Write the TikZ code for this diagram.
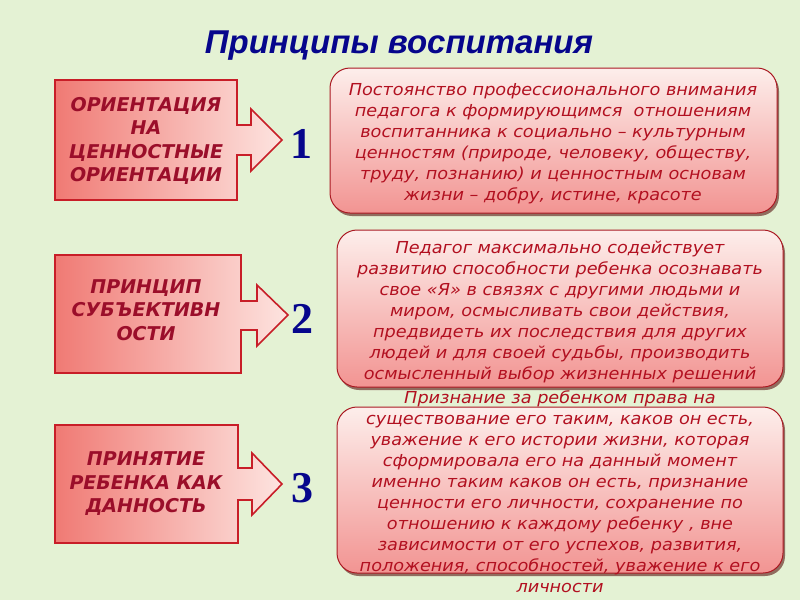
\documentclass[tikz,border=0pt]{standalone}
\usepackage{fontspec}
\setmainfont{DejaVu Sans}
\newfontfamily\bodyfont[FakeStretch=1.07]{DejaVu Sans}
\newfontfamily\titlefont{Liberation Sans}
\newfontfamily\numfont{Liberation Serif}
\usetikzlibrary{shadows}
\definecolor{bg}{RGB}{228,242,212}
\definecolor{txtred}{RGB}{178,16,32}
\definecolor{lblred}{RGB}{155,14,42}
\definecolor{edgered}{RGB}{200,30,40}
\definecolor{navy}{RGB}{6,6,140}
\definecolor{pinkA}{RGB}{240,122,116}
\definecolor{pinkB}{RGB}{253,228,224}
\definecolor{rtop}{RGB}{253,238,235}
\definecolor{rbot}{RGB}{242,148,146}
\tikzset{
  lshape/.style={draw=edgered, line width=1.6pt, left color=pinkA, right color=pinkB, line join=miter},
  lbl/.style={font=\fontsize{19}{23.5}\selectfont\bfseries\itshape, text=lblred, align=center},
  rbox/.style={draw=edgered!85!black, line width=1pt, rounded corners=20pt, top color=rtop, bottom color=rbot,
    drop shadow={shadow xshift=2pt, shadow yshift=-3pt, opacity=0.55, fill=black!70!red}},
  rtxt/.style={font=\bodyfont\fontsize{16.5}{21}\selectfont\itshape, text=txtred, align=center},
  num/.style={font=\numfont\fontsize{44}{44}\selectfont\bfseries, text=navy},
}
\begin{document}
\begin{tikzpicture}[x=1pt,y=-1pt]
\fill[bg] (0,0) rectangle (800,600);
\useasboundingbox (0,0) rectangle (800,600);

\node[font=\titlefont\fontsize{33}{33}\selectfont\bfseries\itshape, text=navy] (title) at (399,46) {Принципы воспитания};

% left shapes with arrows
\draw[lshape] (55,80) -- (237,80) -- (237,125) -- (251,125) -- (251,109) -- (282,140) -- (251,171) -- (251,155) -- (237,155) -- (237,200) -- (55,200) -- cycle;
\draw[lshape] (55,255) -- (241,255) -- (241,301) -- (257,301) -- (257,285) -- (288,315) -- (257,346) -- (257,330) -- (241,330) -- (241,373) -- (55,373) -- cycle;
\draw[lshape] (55,425) -- (238,425) -- (238,468) -- (252,468) -- (252,453) -- (282,484) -- (252,515) -- (252,500) -- (238,500) -- (238,543) -- (55,543) -- cycle;

\node[lbl] (l1) at (146,141) {ОРИЕНТАЦИЯ\\НА\\ЦЕННОСТНЫЕ\\ОРИЕНТАЦИИ};
\node[lbl] (l2) at (146,310) {ПРИНЦИП\\СУБЪЕКТИВН\\ОСТИ};
\node[lbl] (l3) at (146,484) {ПРИНЯТИЕ\\РЕБЕНКА КАК\\ДАННОСТЬ};

\node[num] (n1) at (301,144) {1};
\node[num] (n2) at (302,319) {2};
\node[num] (n3) at (302,488) {3};

% right boxes
\node[rbox, minimum width=447pt, minimum height=145pt] (b1) at (553.5,140.5) {};
\node[rbox, minimum width=446pt, minimum height=157pt] (b2) at (560,308.5) {};
\node[rbox, minimum width=446pt, minimum height=166pt] (b3) at (560,490) {};

\node[rtxt] (t1) at (553,144) {Постоянство профессионального внимания\\педагога к формирующимся \ отношениям\\воспитанника к социально – культурным\\ценностям (природе, человеку, обществу,\\труду, познанию) и ценностным основам\\жизни – добру, истине, красоте};
\node[rtxt] (t2) at (560,312) {Педагог максимально содействует\\развитию способности ребенка осознавать\\свое «Я» в связях с другими людьми и\\миром, осмысливать свои действия,\\предвидеть их последствия для других\\людей и для своей судьбы, производить\\осмысленный выбор жизненных решений};
\node[rtxt] (t3) at (560,492) {Признание за ребенком права на\\существование его таким, каков он есть,\\уважение к его истории жизни, которая\\сформировала его на данный момент\\именно таким каков он есть, признание\\ценности его личности, сохранение по\\отношению к каждому ребенку , вне\\зависимости от его успехов, развития,\\положения, способностей, уважение к его\\личности};
\end{tikzpicture}
\end{document}
